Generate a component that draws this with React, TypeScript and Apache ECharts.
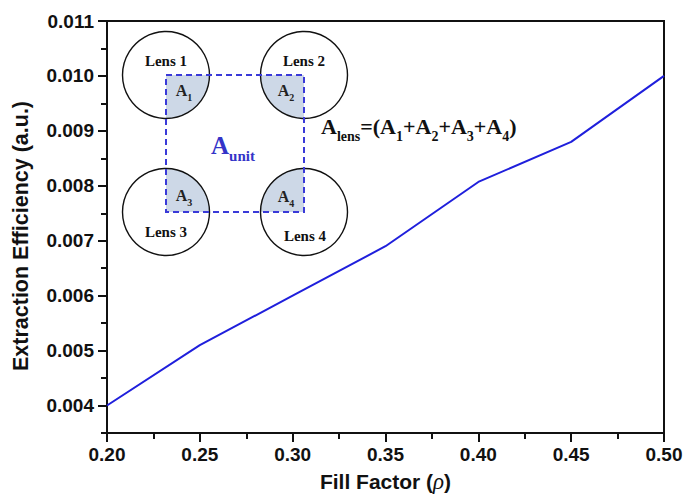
import React, { useEffect, useRef } from 'react';
import * as echarts from 'echarts';

const fillFactor = [0.2, 0.25, 0.3, 0.35, 0.4, 0.45, 0.5];
const efficiency = [0.004, 0.0051, 0.006, 0.0069, 0.00807, 0.0088, 0.01];
const xMajorTicks = [0.2, 0.25, 0.3, 0.35, 0.4, 0.45, 0.5];
const xMinorTicks = [0.225, 0.275, 0.325, 0.375, 0.425, 0.475];
const yMajorTicks = [0.004, 0.005, 0.006, 0.007, 0.008, 0.009, 0.01, 0.011];
const yMinorTicks = [0.0035, 0.0045, 0.0055, 0.0065, 0.0075, 0.0085, 0.0095, 0.0105];
const lensLabels = ['Lens 1', 'Lens 2', 'Lens 3', 'Lens 4'];
const areaLabels = ['1', '2', '3', '4'];
const yTitle = 'Extraction Efficiency (a.u.)';

const SANS = 'Liberation Sans, Arial, sans-serif';
const SERIF = 'Liberation Serif, Times New Roman, serif';
const BLUE_LINE = '#1f1fdc';
const BLUE_TEXT = '#3434c8';
const SHADE = '#cdd8e7';

function subText(main: string, sub: string, mainSize: number, subSize: number, color: string, drop: number) {
  return {
    text: `{m|${main}}{s|${sub}}`,
    rich: {
      m: { fontFamily: SERIF, fontWeight: 'bold', fontSize: mainSize, fill: color, verticalAlign: 'bottom', padding: [0, 0, drop, 0] },
      s: { fontFamily: SERIF, fontWeight: 'bold', fontSize: subSize, fill: color, verticalAlign: 'bottom' },
    },
  };
}

export default function App() {
  const ref = useRef<HTMLDivElement>(null);
  useEffect(() => {
    document.body.style.margin = '0';
    if (!ref.current) return;
    const chart = echarts.init(ref.current, null, { renderer: 'svg' });

    // inset geometry (pixels)
    const cxL = 166, cxR = 304, cyT = 75, cyB = 212, r = 43.5;
    const centers = [[cxL, cyT], [cxR, cyT], [cxL, cyB], [cxR, cyB]];
    const sectorAngles = [[0, Math.PI / 2], [Math.PI / 2, Math.PI], [Math.PI * 1.5, Math.PI * 2], [Math.PI, Math.PI * 1.5]];
    const lensPos = [[166, 61], [304, 61], [166, 232], [305, 236]];
    const areaPos = [[184, 92], [286, 92], [184, 197], [286, 198]];

    const graphics: any[] = [];
    centers.forEach((c, i) => {
      graphics.push({
        type: 'sector', z: 10,
        shape: { cx: c[0], cy: c[1], r0: 0, r, startAngle: sectorAngles[i][0], endAngle: sectorAngles[i][1], clockwise: true },
        style: { fill: SHADE, stroke: null },
      });
    });
    centers.forEach((c) => {
      graphics.push({
        type: 'circle', z: 11,
        shape: { cx: c[0], cy: c[1], r },
        style: { fill: null, stroke: '#111', lineWidth: 1.4 },
      });
    });
    graphics.push({
      type: 'rect', z: 12,
      shape: { x: cxL, y: cyT, width: cxR - cxL, height: cyB - cyT },
      style: { fill: null, stroke: '#3a3ad8', lineWidth: 2, lineDash: [6, 4] },
    });
    lensLabels.forEach((t, i) => {
      graphics.push({
        type: 'text', z: 13, x: lensPos[i][0], y: lensPos[i][1],
        style: { text: t, fontFamily: SERIF, fontWeight: 'bold', fontSize: 15, fill: '#111', align: 'center', verticalAlign: 'middle' },
      });
    });
    areaLabels.forEach((t, i) => {
      graphics.push({
        type: 'text', z: 13, x: areaPos[i][0], y: areaPos[i][1],
        style: { ...subText('A', t, 16, 10, '#222', 4), align: 'center', verticalAlign: 'middle' },
      });
    });
    graphics.push({
      type: 'text', z: 13, x: 233, y: 148,
      style: { ...subText('A', 'unit', 25, 15, BLUE_TEXT, 6), align: 'center', verticalAlign: 'middle' },
    });
    graphics.push({
      type: 'text', z: 13, x: 321, y: 129,
      style: {
        text: '{m|A}{s|lens}{m|=(A}{s|1}{m|+A}{s|2}{m|+A}{s|3}{m|+A}{s|4}{m|)}',
        rich: {
          m: { fontFamily: SERIF, fontWeight: 'bold', fontSize: 22, fill: '#111', verticalAlign: 'bottom', padding: [0, 0, 6, 0] },
          s: { fontFamily: SERIF, fontWeight: 'bold', fontSize: 14, fill: '#111', verticalAlign: 'bottom' },
        },
        align: 'left', verticalAlign: 'middle',
      },
    });
    // y-axis title
    graphics.push({
      type: 'text', z: 13, x: 21, y: 236, rotation: Math.PI / 2,
      style: { text: yTitle, fontFamily: SANS, fontWeight: 'bold', fontSize: 21.5, fill: '#111', align: 'center', verticalAlign: 'middle' },
    });

    const axisLabelStyle = { fontFamily: SANS, fontWeight: 'bold', fontSize: 19, color: '#111' };

    chart.setOption({
      animation: false,
      backgroundColor: '#fff',
      grid: {
        left: 107, top: 21, right: 22, bottom: 61,
        show: true, borderColor: '#111', borderWidth: 2, backgroundColor: 'transparent',
        containLabel: false, outerBoundsMode: 'none',
      },
      xAxis: [
        {
          type: 'value', min: 0.2, max: 0.5, position: 'bottom',
          axisLine: { show: true, onZero: false, lineStyle: { color: '#111', width: 2 } },
          axisTick: { show: true, customValues: xMajorTicks, length: 9, lineStyle: { color: '#111', width: 2 } },
          axisLabel: { show: true, customValues: xMajorTicks, formatter: (v: number) => v.toFixed(2), margin: 12, ...axisLabelStyle },
          splitLine: { show: false },
          name: '{b|Fill Factor (}{r|ρ}{b|)}',
          nameLocation: 'middle', nameGap: 37,
          nameTextStyle: {
            rich: {
              b: { fontFamily: SANS, fontWeight: 'bold', fontSize: 21, color: '#111' },
              r: { fontFamily: SERIF, fontStyle: 'italic', fontSize: 23, color: '#111' },
            },
          },
        },
        {
          type: 'value', min: 0.2, max: 0.5, position: 'bottom',
          axisLine: { show: false, onZero: false },
          axisTick: { show: true, customValues: xMinorTicks, length: 6, lineStyle: { color: '#111', width: 2 } },
          axisLabel: { show: false },
          splitLine: { show: false },
        },
      ],
      yAxis: [
        {
          type: 'value', min: 0.0035, max: 0.011, position: 'left',
          axisLine: { show: true, onZero: false, lineStyle: { color: '#111', width: 2 } },
          axisTick: { show: true, customValues: yMajorTicks, length: 9, lineStyle: { color: '#111', width: 2 } },
          axisLabel: { show: true, customValues: yMajorTicks, formatter: (v: number) => v.toFixed(3), margin: 13, ...axisLabelStyle },
          splitLine: { show: false },
        },
        {
          type: 'value', min: 0.0035, max: 0.011, position: 'left',
          axisLine: { show: false, onZero: false },
          axisTick: { show: true, customValues: yMinorTicks, length: 6, lineStyle: { color: '#111', width: 2 } },
          axisLabel: { show: false },
          splitLine: { show: false },
        },
      ],
      series: [
        {
          type: 'line',
          xAxisIndex: 0, yAxisIndex: 0,
          data: fillFactor.map((x, i) => [x, efficiency[i]]),
          showSymbol: false, symbol: 'none',
          lineStyle: { color: BLUE_LINE, width: 2 },
          z: 20,
        },
      ],
      graphic: graphics,
    });
    return () => chart.dispose();
  }, []);
  return <div ref={ref} style={{ width: 686, height: 494 }} />;
}
